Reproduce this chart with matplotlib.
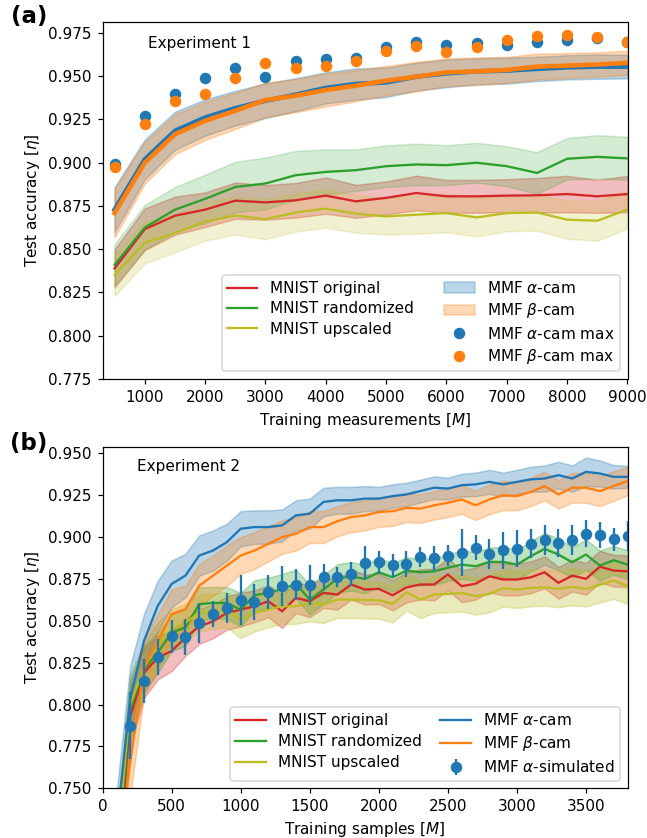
import matplotlib
matplotlib.use("Agg")
import matplotlib.pyplot as plt
from matplotlib.lines import Line2D
import numpy as np

# ---- Experiment 1 (panel a) ----
meas = [500, 1000, 1500, 2000, 2500, 3000, 3500, 4000, 4500,
        5000, 5500, 6000, 6500, 7000, 7500, 8000, 8500, 9000]
mnist_orig_a = [0.8389, 0.8615, 0.8693, 0.8728, 0.878, 0.877, 0.8782, 0.8809, 0.8776,
                0.8796, 0.8824, 0.8805, 0.8805, 0.8809, 0.8811, 0.8818, 0.8805, 0.8818]
mnist_rand_a = [0.8409, 0.8625, 0.8728, 0.879, 0.8859, 0.8879, 0.8927, 0.8946, 0.8956,
                0.8979, 0.8989, 0.8985, 0.8999, 0.8979, 0.894, 0.9022, 0.9033, 0.9024]
mnist_up_a = [0.835, 0.8538, 0.8592, 0.8659, 0.8694, 0.8673, 0.8712, 0.8734, 0.8705,
              0.8689, 0.8699, 0.8708, 0.8683, 0.8708, 0.8712, 0.867, 0.8664, 0.8728]
alpha_a = [0.8728, 0.9018, 0.9183, 0.926, 0.9314, 0.9357, 0.9392, 0.9431, 0.9454,
           0.9463, 0.9496, 0.9515, 0.9527, 0.9531, 0.9541, 0.955, 0.9554, 0.9554]
beta_a = [0.8708, 0.8999, 0.9163, 0.9241, 0.9299, 0.9361, 0.9386, 0.9419, 0.9444,
          0.9473, 0.9496, 0.9521, 0.9527, 0.9535, 0.9554, 0.956, 0.9566, 0.9576]
alpha_max = [0.8989, 0.9266, 0.9396, 0.9486, 0.9547, 0.9496, 0.9589, 0.9599, 0.9603,
             0.9666, 0.9695, 0.968, 0.969, 0.968, 0.9695, 0.971, 0.9719, 0.9695]
beta_max = [0.8975, 0.9225, 0.9357, 0.9396, 0.9486, 0.9576, 0.9547, 0.9556, 0.9589,
            0.9647, 0.9676, 0.9637, 0.9666, 0.971, 0.9729, 0.9738, 0.9725, 0.9695]

alpha_sd_a = [0.013, 0.0115, 0.011, 0.0105, 0.010, 0.010, 0.0095, 0.009, 0.009,
              0.0085, 0.008, 0.008, 0.0075, 0.0075, 0.007, 0.007, 0.007, 0.0068]
beta_sd_a = [0.014, 0.012, 0.0115, 0.011, 0.0105, 0.010, 0.0095, 0.0095, 0.009,
             0.0085, 0.0085, 0.008, 0.008, 0.0075, 0.0075, 0.0072, 0.007, 0.007]
rand_sd_a = [0.012, 0.013, 0.013, 0.014, 0.0145, 0.015, 0.014, 0.013, 0.012,
             0.012, 0.012, 0.0115, 0.0115, 0.0115, 0.012, 0.012, 0.0125, 0.0125]
orig_sd_a = [0.011, 0.012, 0.011, 0.010, 0.0105, 0.010, 0.010, 0.0105, 0.0095,
             0.0095, 0.010, 0.0095, 0.0095, 0.0095, 0.010, 0.0105, 0.0095, 0.0105]
up_sd_a = [0.012, 0.012, 0.011, 0.011, 0.011, 0.0115, 0.011, 0.011, 0.011,
           0.0105, 0.011, 0.011, 0.011, 0.0105, 0.0105, 0.011, 0.0115, 0.011]

# ---- Experiment 2 (panel b) ----
samples = list(range(100, 3900, 100))
mnist_orig_b = [0.69, 0.793, 0.819, 0.828, 0.832, 0.840, 0.8467, 0.8497, 0.8547, 0.8567,
                0.8587, 0.8617, 0.8557, 0.8637, 0.8617, 0.8667, 0.8657, 0.8717, 0.8687,
                0.8691, 0.8653, 0.870, 0.8717, 0.8717, 0.8777, 0.8707, 0.8722, 0.8766,
                0.8747, 0.8747, 0.876, 0.879, 0.8727, 0.877, 0.8751, 0.8823, 0.880, 0.8796]
mnist_rand_b = [0.70, 0.797, 0.821, 0.831, 0.843, 0.846, 0.860, 0.8607, 0.8607, 0.8567,
                0.8653, 0.8667, 0.869, 0.872, 0.8627, 0.8687, 0.8753, 0.8766, 0.875,
                0.879, 0.876, 0.880, 0.879, 0.8796, 0.8817, 0.8836, 0.8826, 0.8852,
                0.8852, 0.8836, 0.8886, 0.893, 0.8896, 0.885, 0.8896, 0.883, 0.8862, 0.8836]
mnist_up_b = [0.71, 0.80, 0.822, 0.836, 0.845, 0.849, 0.8547, 0.8557, 0.8567, 0.8507,
              0.8547, 0.8567, 0.8587, 0.8587, 0.8607, 0.8597, 0.8627, 0.8627, 0.8625,
              0.8623, 0.8601, 0.8671, 0.8627, 0.8657, 0.8661, 0.8667, 0.8647, 0.8661,
              0.8695, 0.8687, 0.8697, 0.870, 0.8691, 0.8703, 0.8691, 0.8715, 0.8741, 0.8707]
alpha_b = [0.726, 0.803, 0.838, 0.859, 0.872, 0.877, 0.889, 0.892, 0.897, 0.905,
           0.906, 0.906, 0.907, 0.913, 0.914, 0.921, 0.922, 0.922, 0.923, 0.923,
           0.9245, 0.9255, 0.9275, 0.9295, 0.929, 0.931, 0.9315, 0.933, 0.9315, 0.933,
           0.9345, 0.935, 0.937, 0.935, 0.939, 0.938, 0.936, 0.936]
beta_b = [0.70, 0.765, 0.822, 0.838, 0.854, 0.857, 0.871, 0.877, 0.883, 0.889,
          0.892, 0.896, 0.900, 0.902, 0.906, 0.906, 0.9095, 0.912, 0.913, 0.915,
          0.9155, 0.9175, 0.917, 0.919, 0.9205, 0.9225, 0.919, 0.9225, 0.925, 0.9245,
          0.927, 0.9305, 0.9255, 0.9295, 0.9295, 0.9275, 0.9305, 0.9335]

orig_sd_b = [0.02, 0.018, 0.015, 0.013, 0.012, 0.011, 0.0105, 0.010, 0.010, 0.010,
             0.0095, 0.0095, 0.010, 0.009, 0.0095, 0.009, 0.009, 0.009, 0.009, 0.009,
             0.009, 0.009, 0.009, 0.0095, 0.0095, 0.0095, 0.0095, 0.0095, 0.0095, 0.0095,
             0.0095, 0.0095, 0.0095, 0.0095, 0.0095, 0.0095, 0.0095, 0.0095]
rand_sd_b = [0.02, 0.018, 0.014, 0.012, 0.011, 0.011, 0.010, 0.0095, 0.0095, 0.010,
             0.009, 0.009, 0.009, 0.0085, 0.009, 0.0085, 0.0085, 0.0085, 0.0085, 0.0085,
             0.0085, 0.008, 0.008, 0.008, 0.008, 0.0085, 0.0085, 0.0085, 0.009, 0.009,
             0.009, 0.0095, 0.0095, 0.009, 0.009, 0.009, 0.0085, 0.0085]
up_sd_b = [0.02, 0.018, 0.015, 0.013, 0.012, 0.011, 0.011, 0.0105, 0.0105, 0.011,
           0.011, 0.0105, 0.0105, 0.0105, 0.011, 0.011, 0.011, 0.011, 0.011, 0.011,
           0.011, 0.011, 0.011, 0.011, 0.011, 0.011, 0.011, 0.011, 0.011, 0.011,
           0.011, 0.011, 0.011, 0.011, 0.0105, 0.0105, 0.011, 0.0105]
alpha_sd_b = [0.02, 0.02, 0.016, 0.015, 0.014, 0.013, 0.012, 0.012, 0.011, 0.0105,
              0.010, 0.010, 0.0095, 0.009, 0.009, 0.0085, 0.008, 0.008, 0.0075, 0.007,
              0.007, 0.007, 0.0068, 0.0068, 0.0065, 0.0068, 0.007, 0.0072, 0.007, 0.0072,
              0.0075, 0.0078, 0.008, 0.0078, 0.0085, 0.0078, 0.007, 0.0066]
beta_sd_b = [0.02, 0.02, 0.017, 0.016, 0.015, 0.014, 0.013, 0.012, 0.012, 0.011,
             0.011, 0.0105, 0.010, 0.010, 0.0095, 0.0095, 0.009, 0.009, 0.009, 0.0088,
             0.0088, 0.0085, 0.0085, 0.0085, 0.0085, 0.0085, 0.0088, 0.0088, 0.0088, 0.0085,
             0.0085, 0.0085, 0.0085, 0.0088, 0.009, 0.009, 0.0088, 0.0085]

sim_x = list(range(200, 3900, 100))
sim_y = [0.7873, 0.8142, 0.8284, 0.8407, 0.8404, 0.8485, 0.8541, 0.8577, 0.8623,
         0.8613, 0.8673, 0.8707, 0.8717, 0.8713, 0.876, 0.876, 0.8782, 0.8847, 0.885,
         0.8832, 0.884, 0.8884, 0.8874, 0.889, 0.8906, 0.8936, 0.8898, 0.8922, 0.893,
         0.896, 0.8982, 0.8966, 0.8982, 0.902, 0.9012, 0.8986, 0.9006]
sim_err = [0.020, 0.013, 0.0105, 0.010, 0.011, 0.012, 0.0075, 0.009, 0.015,
           0.011, 0.010, 0.012, 0.0093, 0.012, 0.0078, 0.006, 0.0072, 0.010, 0.007,
           0.0068, 0.008, 0.006, 0.0075, 0.006, 0.014, 0.0074, 0.0088, 0.011, 0.011,
           0.0087, 0.0088, 0.0085, 0.009, 0.0081, 0.0078, 0.0069, 0.009]

C_BLUE, C_ORANGE, C_GREEN, C_RED, C_OLIVE = "#1f77b4", "#ff7f0e", "#2ca02c", "#d62728", "#bcbd22"


def band(ax, x, y, sd, color, alpha):
    y = np.array(y)
    sd = np.array(sd)
    return ax.fill_between(x, y - sd, y + sd, color=color, alpha=alpha, linewidth=1)


def main():
    W, H, DPI = 647, 838, 110
    fig = plt.figure(figsize=(W / DPI, H / DPI), dpi=DPI)
    right = 627.5

    # panel (a)
    ax1 = fig.add_axes([102.5 / W, 1 - 379 / H, (right - 102.5) / W, (379 - 22.3) / H])
    band(ax1, meas, mnist_orig_a, orig_sd_a, C_RED, 0.3)
    band(ax1, meas, mnist_rand_a, rand_sd_a, C_GREEN, 0.2)
    band(ax1, meas, mnist_up_a, up_sd_a, C_OLIVE, 0.2)
    h_orig, = ax1.plot(meas, mnist_orig_a, color=C_RED, lw=1.5)
    h_rand, = ax1.plot(meas, mnist_rand_a, color=C_GREEN, lw=1.5)
    h_up, = ax1.plot(meas, mnist_up_a, color=C_OLIVE, lw=1.5)
    p_alpha = band(ax1, meas, alpha_a, alpha_sd_a, C_BLUE, 0.3)
    p_beta = band(ax1, meas, beta_a, beta_sd_a, C_ORANGE, 0.3)
    ax1.plot(meas, alpha_a, color=C_BLUE, lw=3)
    ax1.plot(meas, beta_a, color=C_ORANGE, lw=3)
    h_amax, = ax1.plot(meas, alpha_max, "o", color=C_BLUE, ms=6.5)
    h_bmax, = ax1.plot(meas, beta_max, "o", color=C_ORANGE, ms=6.5)
    blank = Line2D([], [], color="none")

    ax1.set_xlim(300, 9000)
    ax1.set_ylim(0.775, 0.981)
    ax1.set_xticks([1000, 2000, 3000, 4000, 5000, 6000, 7000, 8000, 9000])
    ax1.set_yticks(np.arange(0.775, 0.976, 0.025))
    ax1.yaxis.set_major_formatter(matplotlib.ticker.FormatStrFormatter("%.3f"))
    ax1.set_xlabel(r"Training measurements [$M$]")
    ax1.set_ylabel(r"Test accuracy [$\eta$]")
    ax1.text(0.086, 0.94, "Experiment 1", transform=ax1.transAxes, va="center")
    ax1.legend([h_orig, h_rand, h_up, blank, p_alpha, p_beta, h_amax, h_bmax],
               ["MNIST original", "MNIST randomized", "MNIST upscaled", "",
                r"MMF $\alpha$-cam", r"MMF $\beta$-cam",
                r"MMF $\alpha$-cam max", r"MMF $\beta$-cam max"],
               ncol=2, loc="lower right", labelspacing=0.35, borderpad=0.35)

    # panel (b)
    ax2 = fig.add_axes([102.5 / W, 1 - 788.3 / H, (right - 102.5) / W, (788.3 - 446.7) / H])
    band(ax2, samples, mnist_orig_b, orig_sd_b, C_RED, 0.3)
    band(ax2, samples, mnist_rand_b, rand_sd_b, C_GREEN, 0.3)
    band(ax2, samples, mnist_up_b, up_sd_b, C_OLIVE, 0.3)
    band(ax2, samples, alpha_b, alpha_sd_b, C_BLUE, 0.3)
    band(ax2, samples, beta_b, beta_sd_b, C_ORANGE, 0.3)
    l_orig, = ax2.plot(samples, mnist_orig_b, color=C_RED, lw=1.5)
    l_rand, = ax2.plot(samples, mnist_rand_b, color=C_GREEN, lw=1.5)
    l_up, = ax2.plot(samples, mnist_up_b, color=C_OLIVE, lw=1.5)
    l_alpha, = ax2.plot(samples, alpha_b, color=C_BLUE, lw=1.5)
    l_beta, = ax2.plot(samples, beta_b, color=C_ORANGE, lw=1.5)
    e_sim = ax2.errorbar(sim_x, sim_y, yerr=sim_err, fmt="o", color=C_BLUE,
                         ms=6.5, elinewidth=1.5, capsize=0)

    ax2.set_xlim(0, 3800)
    ax2.set_ylim(0.75, 0.954)
    ax2.set_xticks([0, 500, 1000, 1500, 2000, 2500, 3000, 3500])
    ax2.set_yticks(np.arange(0.75, 0.951, 0.025))
    ax2.yaxis.set_major_formatter(matplotlib.ticker.FormatStrFormatter("%.3f"))
    ax2.set_xlabel(r"Training samples [$M$]")
    ax2.set_ylabel(r"Test accuracy [$\eta$]")
    ax2.text(0.065, 0.943, "Experiment 2", transform=ax2.transAxes, va="center")
    ax2.legend([l_orig, l_rand, l_up, l_alpha, l_beta, e_sim],
               ["MNIST original", "MNIST randomized", "MNIST upscaled",
                r"MMF $\alpha$-cam", r"MMF $\beta$-cam", r"MMF $\alpha$-simulated"],
               ncol=2, loc="lower right", columnspacing=1.2,
               labelspacing=0.4, borderpad=0.35)

    fig.text(0.045, 0.98, "(a)", fontsize=15, fontweight="bold", ha="center", va="center")
    fig.text(0.045, 0.471, "(b)", fontsize=15, fontweight="bold", ha="center", va="center")

    fig.savefig("out.png", dpi=DPI)
    return 0


if __name__ == "__main__":
    main()
